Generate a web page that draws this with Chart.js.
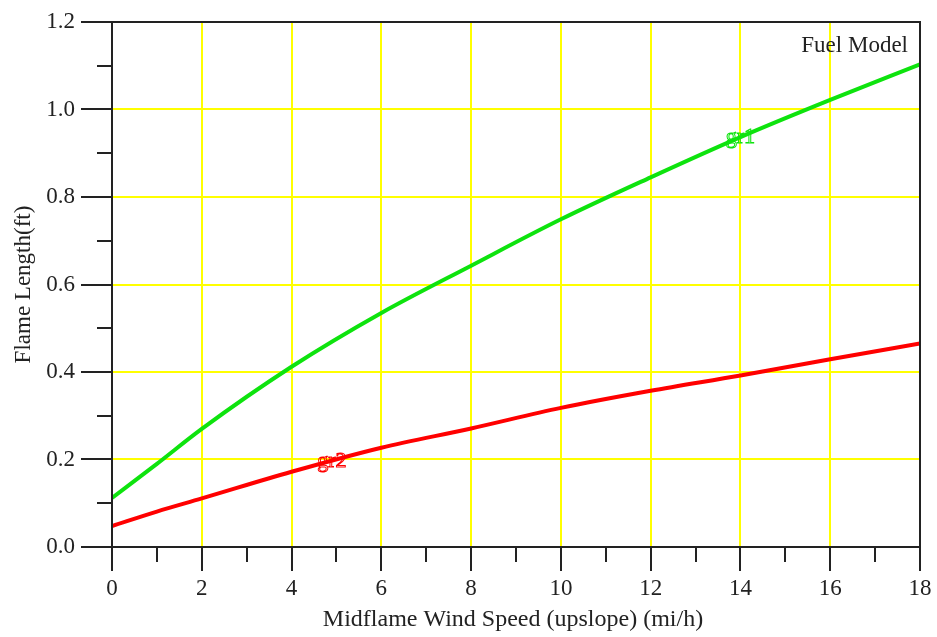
<!DOCTYPE html>
<html>
<head>
<meta charset="utf-8">
<script src="https://cdn.jsdelivr.net/npm/chart.js@4/dist/chart.umd.min.js"></script>
<style>
  html, body { margin: 0; padding: 0; background: #fff; }
  #wrap { width: 937px; height: 637px; }
</style>
</head>
<body>
<div id="wrap"><canvas id="c" width="937" height="637"></canvas></div>
<script>
// Midflame wind speed (mi/h) and flame length (ft) for each fuel model
const windSpeed = [0, 1, 2, 4, 6, 8, 10, 12, 14, 16, 18];
const gr1 = [0.112, 0.190, 0.270, 0.412, 0.535, 0.643, 0.749, 0.845, 0.937, 1.022, 1.103];
const gr2 = [0.048, 0.081, 0.111, 0.172, 0.227, 0.271, 0.318, 0.357, 0.392, 0.429, 0.465];

const seriesNames = ['gr1', 'gr2'];
const seriesColors = ['#0ee30e', '#ff0000'];
// wind speed at which each curve carries its name
const nameAt = [14, 4.9];

const xTicks = [0, 2, 4, 6, 8, 10, 12, 14, 16, 18];
const yTicks = [0.0, 0.2, 0.4, 0.6, 0.8, 1.0, 1.2];
const xTitle = 'Midflame Wind Speed (upslope) (mi/h)';
const yTitle = 'Flame Length(ft)';

const serif = '"Liberation Serif", "Times New Roman", serif';
const ink = '#222';

function points(ys) { return windSpeed.map((x, i) => ({ x: x, y: ys[i] })); }

// Black frame, long major / short minor ticks, tick labels and axis titles
const axesDecor = {
  id: 'axesDecor',
  afterDatasetsDraw(chart) {
    const { ctx, chartArea: a, scales: { x, y } } = chart;
    ctx.save();
    ctx.strokeStyle = ink;
    ctx.lineWidth = 2;
    ctx.strokeRect(a.left, a.top, a.right - a.left, a.bottom - a.top);
    ctx.beginPath();
    for (let v = 0; v <= 18; v += 1) {
      const px = Math.round(x.getPixelForValue(v));
      const len = v % 2 === 0 ? 24 : 15;
      ctx.moveTo(px, a.bottom);
      ctx.lineTo(px, a.bottom + len);
    }
    for (let k = 0; k <= 12; k += 1) {
      const py = Math.round(y.getPixelForValue(k / 10));
      const len = k % 2 === 0 ? 31 : 15;
      ctx.moveTo(a.left, py);
      ctx.lineTo(a.left - len, py);
    }
    ctx.stroke();

    ctx.fillStyle = ink;
    ctx.font = '23px ' + serif;
    ctx.textBaseline = 'middle';
    ctx.textAlign = 'center';
    xTicks.forEach(v => ctx.fillText(String(v), x.getPixelForValue(v), a.bottom + 42));
    ctx.textAlign = 'right';
    yTicks.forEach(v => ctx.fillText(v.toFixed(1), a.left - 37, y.getPixelForValue(v)));

    ctx.textAlign = 'center';
    ctx.font = '24px ' + serif;
    ctx.fillText(xTitle, (a.left + a.right) / 2 - 3, a.bottom + 73);
    ctx.font = '23px ' + serif;
    ctx.save();
    ctx.translate(24, (a.top + a.bottom) / 2);
    ctx.rotate(-Math.PI / 2);
    ctx.fillText(yTitle, 0, 0);
    ctx.restore();
    ctx.restore();
  }
};

// Series names written on their curves, plus the legend heading
const curveNames = {
  id: 'curveNames',
  afterDraw(chart) {
    const { ctx, chartArea: a, scales: { x } } = chart;
    ctx.save();
    ctx.font = '22px ' + serif;
    ctx.textAlign = 'center';
    ctx.textBaseline = 'middle';
    ctx.lineWidth = 1;
    chart.data.datasets.forEach((ds, i) => {
      const pts = chart.getDatasetMeta(i).data;
      const target = x.getPixelForValue(nameAt[i]);
      let j = 0;
      while (j < pts.length - 2 && pts[j + 1].x < target) j++;
      const p0 = pts[j], p1 = pts[j + 1];
      const t = (target - p0.x) / (p1.x - p0.x);
      const py = p0.y + t * (p1.y - p0.y);
      ctx.strokeStyle = seriesColors[i];
      ctx.strokeText(seriesNames[i], target, py);
    });
    ctx.fillStyle = ink;
    ctx.textAlign = 'right';
    ctx.font = '23px ' + serif;
    ctx.fillText('Fuel Model', a.right - 12, 46);
    ctx.restore();
  }
};

new Chart(document.getElementById('c'), {
  type: 'line',
  data: {
    datasets: [
      { label: seriesNames[0], data: points(gr1), borderColor: seriesColors[0], borderWidth: 4,
        pointRadius: 0, cubicInterpolationMode: 'monotone', fill: false },
      { label: seriesNames[1], data: points(gr2), borderColor: seriesColors[1], borderWidth: 4,
        pointRadius: 0, cubicInterpolationMode: 'monotone', fill: false }
    ]
  },
  options: {
    responsive: false,
    animation: false,
    layout: { padding: { left: 0, top: 22, right: 17, bottom: 0 } },
    plugins: { legend: { display: false }, tooltip: { enabled: false } },
    scales: {
      x: {
        type: 'linear', min: 0, max: 18,
        afterBuildTicks(s) { s.ticks = xTicks.map(v => ({ value: v })); },
        afterFit(s) { s.height = 90; },
        grid: { color: '#ffff00', lineWidth: 2, drawTicks: false },
        border: { display: false },
        ticks: { display: false }
      },
      y: {
        type: 'linear', min: 0, max: 1.2,
        afterBuildTicks(s) { s.ticks = yTicks.map(v => ({ value: v })); },
        afterFit(s) { s.width = 112; },
        grid: { color: '#ffff00', lineWidth: 2, drawTicks: false },
        border: { display: false },
        ticks: { display: false }
      }
    }
  },
  plugins: [axesDecor, curveNames]
});
</script>
</body>
</html>
